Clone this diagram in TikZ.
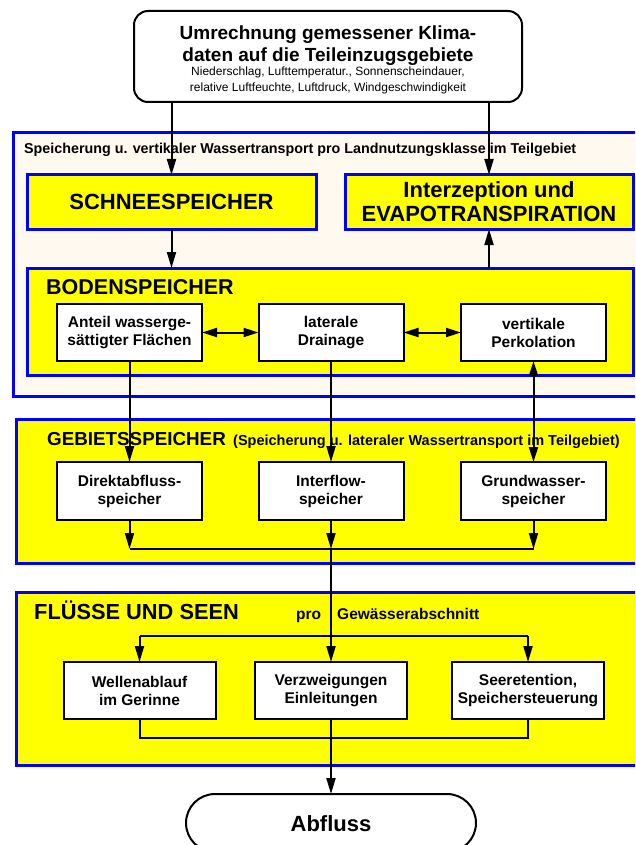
\documentclass[tikz,border=0pt]{standalone}
\usepackage{fontspec}
\setmainfont{Liberation Sans}
\usetikzlibrary{arrows.meta}
\definecolor{fblue}{RGB}{0,0,255}
\definecolor{fyellow}{RGB}{255,255,0}
\definecolor{fcream}{RGB}{255,249,240}
\tikzset{
  frame/.style={draw=fblue, line width=3pt, inner sep=0pt, outer sep=0pt},
  ybox/.style={draw=fblue, fill=fyellow, line width=3pt, inner sep=0pt, outer sep=0pt, align=center,
    font=\fontsize{22}{24}\selectfont\bfseries},
  wbox/.style={draw=black, fill=white, line width=2pt, inner sep=0pt, outer sep=0pt,
    minimum height=57pt, align=center, font=\fontsize{15.5}{18}\selectfont\bfseries},
  rbox/.style={draw=black, fill=white, line width=2pt, inner sep=0pt, outer sep=0pt},
  lbl/.style={inner sep=0pt, anchor=base west},
  ctr/.style={inner sep=0pt, anchor=base},
  arr/.style={line width=2pt, -{Triangle[length=16pt,width=9pt]}},
  darr/.style={line width=2pt, {Triangle[length=15pt,width=9pt]}-{Triangle[length=15pt,width=9pt]}},
  ln/.style={line width=2pt},
}
\begin{document}
\begin{tikzpicture}[x=1pt,y=-1pt]
\clip (0,0) rectangle (635,845);
% frames
\node[frame, fill=fcream, minimum width=647pt, minimum height=263pt] (f1) at (336.5,264.5) {};
\node[frame, fill=fyellow, minimum width=644pt, minimum height=144pt] (f2) at (338,491) {};
\node[frame, fill=fyellow, minimum width=644pt, minimum height=173pt] (f3) at (338,678.5) {};
% top box
\node[rbox, rounded corners=14pt, minimum width=388pt, minimum height=91pt] (top) at (328,56.5) {};
\node[ctr, font=\fontsize{19}{22}\selectfont\bfseries] (t1) at (328,39.5) {Umrechnung gemessener Klima-};
\node[ctr, font=\fontsize{19}{22}\selectfont\bfseries] (t2) at (328,62) {daten auf die Teileinzugsgebiete};
\node[ctr, font=\fontsize{12}{14}\selectfont] (t3) at (328,76) {Niederschlag, Lufttemperatur., Sonnenscheindauer,};
\node[ctr, font=\fontsize{12}{14}\selectfont] (t4) at (328,92) {relative Luftfeuchte, Luftdruck, Windgeschwindigkeit};
% frame 1 content
\node[lbl, font=\fontsize{14.3}{16}\selectfont\bfseries] (f1t) at (24,154) {Speicherung u. vertikaler Wassertransport pro Landnutzungsklasse im Teilgebiet};
\node[ybox, minimum width=289pt, minimum height=54pt] (sch) at (171.5,202) {SCHNEESPEICHER};
\node[ybox, minimum width=288pt, minimum height=54pt, font=\fontsize{22}{24}\selectfont\bfseries] (iz) at (489,202) {Interzeption und\\EVAPOTRANSPIRATION};
\node[ybox, minimum width=606pt, minimum height=107pt] (bod) at (330,321.5) {};
\node[lbl, font=\fontsize{21.5}{24}\selectfont\bfseries] (bodt) at (46,294.5) {BODENSPEICHER};
\node[wbox, minimum width=145pt] (A) at (129.5,332.5) {Anteil wasserge-\\sättigter Flächen};
\node[wbox, minimum width=145pt] (L) at (331,332.5) {laterale\\Drainage};
\node[wbox, minimum width=145pt] (V) at (533.5,332.5) {vertikale\\Perkolation};
% frame 2 content
\node[lbl, font=\fontsize{18.8}{20}\selectfont\bfseries] (g1) at (47,445) {GEBIETSSPEICHER};
\node[lbl, font=\fontsize{14.5}{16}\selectfont\bfseries] (g2) at (233,445) {(Speicherung u. lateraler Wassertransport im Teilgebiet)};
\node[wbox, minimum width=145pt, minimum height=58pt] (D) at (129.5,491) {Direktabfluss-\\speicher};
\node[wbox, minimum width=145pt, minimum height=58pt] (I) at (331,491) {Interflow-\\speicher};
\node[wbox, minimum width=145pt, minimum height=58pt] (G) at (533.5,491) {Grundwasser-\\speicher};
% frame 3 content
\node[lbl, font=\fontsize{21.8}{24}\selectfont\bfseries] (fl) at (34,619) {FLÜSSE UND SEEN};
\node[lbl, font=\fontsize{15.5}{18}\selectfont\bfseries] (pro) at (296,619) {pro};
\node[lbl, font=\fontsize{15.5}{18}\selectfont\bfseries] (gew) at (337,619) {Gewässerabschnitt};
\node[wbox, minimum width=152pt] (W) at (139.5,690.5) {Wellenablauf\\im Gerinne};
\node[wbox, minimum width=152pt] (Vz) at (331,690.5) {Verzweigungen\\Einleitungen};
\node[wbox, minimum width=152pt] (S) at (528,690.5) {Seeretention,\\Speichersteuerung};
% output
\node[rbox, rounded corners=29pt, minimum width=290pt, minimum height=58pt] (ab) at (331,823) {};
\node[ctr, font=\fontsize{22}{24}\selectfont\bfseries] (abt) at (331,831) {Abfluss};
% helper coordinates
\coordinate (cy) at (0,549);
\coordinate (dy) at (0,636);
\coordinate (by) at (0,738);
% connectors
\draw[arr] (top.south -| sch.north) -- (sch.north);
\draw[arr] (top.south -| iz.north) -- (iz.north);
\draw[arr] (sch.south) -- (sch.south |- bod.north);
\draw[arr] (bod.north -| iz.south) -- (iz.south);
\draw[darr] (A.east) -- (L.west);
\draw[darr] (L.east) -- (V.west);
\draw[arr] (A.south) -- (D.north);
\draw[arr] (L.south) -- (I.north);
\draw[darr] (V.south) -- (G.north);
\draw[arr] (D.south) -- (D.south |- cy);
\draw[arr] (I.south) -- (I.south |- cy);
\draw[arr] (G.south) -- (G.south |- cy);
\draw[ln] (D.south |- cy) -- (G.south |- cy);
\draw[arr] (I.south |- cy) -- (Vz.north);
\draw[ln] (W.north |- dy) -- (S.north |- dy);
\draw[arr] (W.north |- dy) -- (W.north);
\draw[arr] (S.north |- dy) -- (S.north);
\draw[ln] (W.south) -- (W.south |- by) -- (S.south |- by) -- (S.south);
\draw[arr] (Vz.south) -- (ab.north);
\end{tikzpicture}
\end{document}
